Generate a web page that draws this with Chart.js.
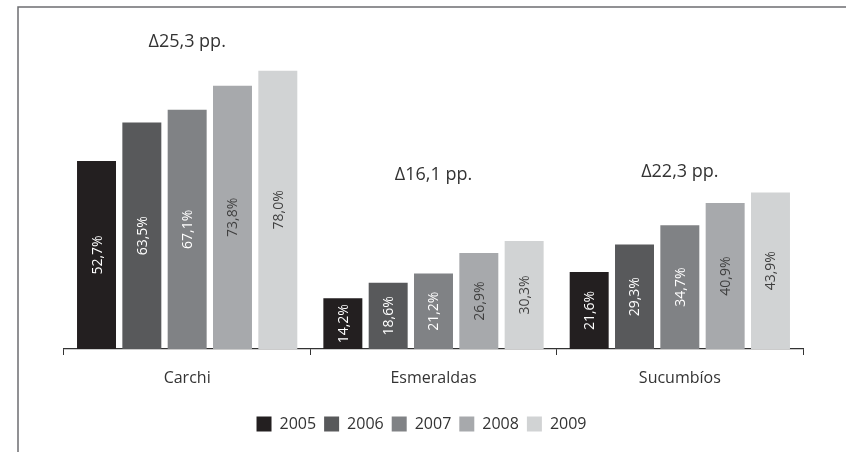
<!DOCTYPE html>
<html>
<head>
<meta charset="utf-8">
<script src="https://cdn.jsdelivr.net/npm/chart.js@4.4.1/dist/chart.umd.min.js"></script>
<style>
  html, body { margin: 0; padding: 0; background: #fff; }
  #wrap { width: 846px; height: 452px; }
</style>
</head>
<body>
<div id="wrap"><canvas id="c" width="846" height="452"></canvas></div>
<script>
const categories = ['Carchi', 'Esmeraldas', 'Sucumbíos'];
const years = ['2005', '2006', '2007', '2008', '2009'];
const v2005 = [52.7, 14.2, 21.6];
const v2006 = [63.5, 18.6, 29.3];
const v2007 = [67.1, 21.2, 34.7];
const v2008 = [73.8, 26.9, 40.9];
const v2009 = [78.0, 30.3, 43.9];
const deltaLabels = ['\u039425,3 pp.', '\u039416,1 pp.', '\u039422,3 pp.'];
const deltaLevels = [86.0, 48.7, 49.6];

const colors = ['#231f20', '#58595b', '#808285', '#a7a9ac', '#d1d3d4'];
const labelColors = ['#ffffff', '#ffffff', '#ffffff', '#3f3f3f', '#3f3f3f'];
const FONT = "'Open Sans', 'Noto Sans', sans-serif";

const series = [v2005, v2006, v2007, v2008, v2009];

const framePlugin = {
  id: 'frame',
  beforeDraw(chart) {
    const ctx = chart.ctx;
    ctx.save();
    ctx.strokeStyle = '#6d6e71';
    ctx.lineWidth = 1.5;
    ctx.beginPath();
    ctx.moveTo(18, 452);
    ctx.lineTo(18, 7);
    ctx.lineTo(846, 7);
    ctx.stroke();
    ctx.restore();
  }
};

const valueLabelPlugin = {
  id: 'valueLabels',
  afterDatasetsDraw(chart) {
    const ctx = chart.ctx;
    ctx.save();
    ctx.font = '14px ' + FONT;
    ctx.textAlign = 'center';
    ctx.textBaseline = 'middle';
    chart.data.datasets.forEach((ds, di) => {
      const meta = chart.getDatasetMeta(di);
      meta.data.forEach((bar, i) => {
        const v = ds.data[i];
        const txt = v.toFixed(1).replace('.', ',') + '%';
        const cy = (bar.y + bar.base) / 2;
        ctx.save();
        ctx.translate(bar.x, cy);
        ctx.rotate(-Math.PI / 2);
        ctx.fillStyle = labelColors[di];
        ctx.fillText(txt, 0, 1);
        ctx.restore();
      });
    });
    ctx.restore();
  }
};

const deltaPlugin = {
  id: 'deltas',
  afterDraw(chart) {
    const ctx = chart.ctx;
    const xs = chart.scales.x, ys = chart.scales.y;
    ctx.save();
    ctx.font = '18px ' + FONT;
    ctx.fillStyle = '#333333';
    ctx.textAlign = 'center';
    ctx.textBaseline = 'middle';
    deltaLabels.forEach((t, i) => {
      ctx.fillText(t, xs.getPixelForValue(i), ys.getPixelForValue(deltaLevels[i]));
    });
    ctx.restore();
  }
};

new Chart(document.getElementById('c'), {
  type: 'bar',
  data: {
    labels: categories,
    datasets: years.map((y, i) => ({
      label: y,
      data: series[i],
      backgroundColor: colors[i],
      borderWidth: 0,
      categoryPercentage: 0.92,
      barPercentage: 0.86
    }))
  },
  options: {
    responsive: false,
    animation: false,
    layout: { padding: { left: 10, right: 13, top: 28, bottom: 10 } },
    plugins: {
      legend: {
        position: 'bottom',
        labels: {
          boxWidth: 15,
          boxHeight: 15,
          padding: 8,
          color: '#333333',
          font: { family: FONT, size: 16 }
        }
      },
      tooltip: { enabled: false }
    },
    scales: {
      x: {
        grid: {
          display: true,
          drawOnChartArea: false,
          drawTicks: true,
          tickLength: 6,
          color: '#333333',
          offset: true
        },
        border: { display: true, color: '#333333', width: 1.2 },
        ticks: {
          color: '#333333',
          padding: 14,
          font: { family: FONT, size: 16 }
        },
        afterFit(s) { s.height = 59; }
      },
      y: {
        position: 'left',
        min: 0,
        max: 90,
        grid: { display: false },
        border: { display: false },
        ticks: { display: false },
        afterFit(s) { s.width = 54; }
      },
      y2: {
        position: 'right',
        min: 0,
        max: 1,
        grid: { display: false },
        border: { display: false },
        ticks: { display: false },
        afterFit(s) { s.width = 30; }
      }
    }
  },
  plugins: [framePlugin, valueLabelPlugin, deltaPlugin]
});
</script>
</body>
</html>
